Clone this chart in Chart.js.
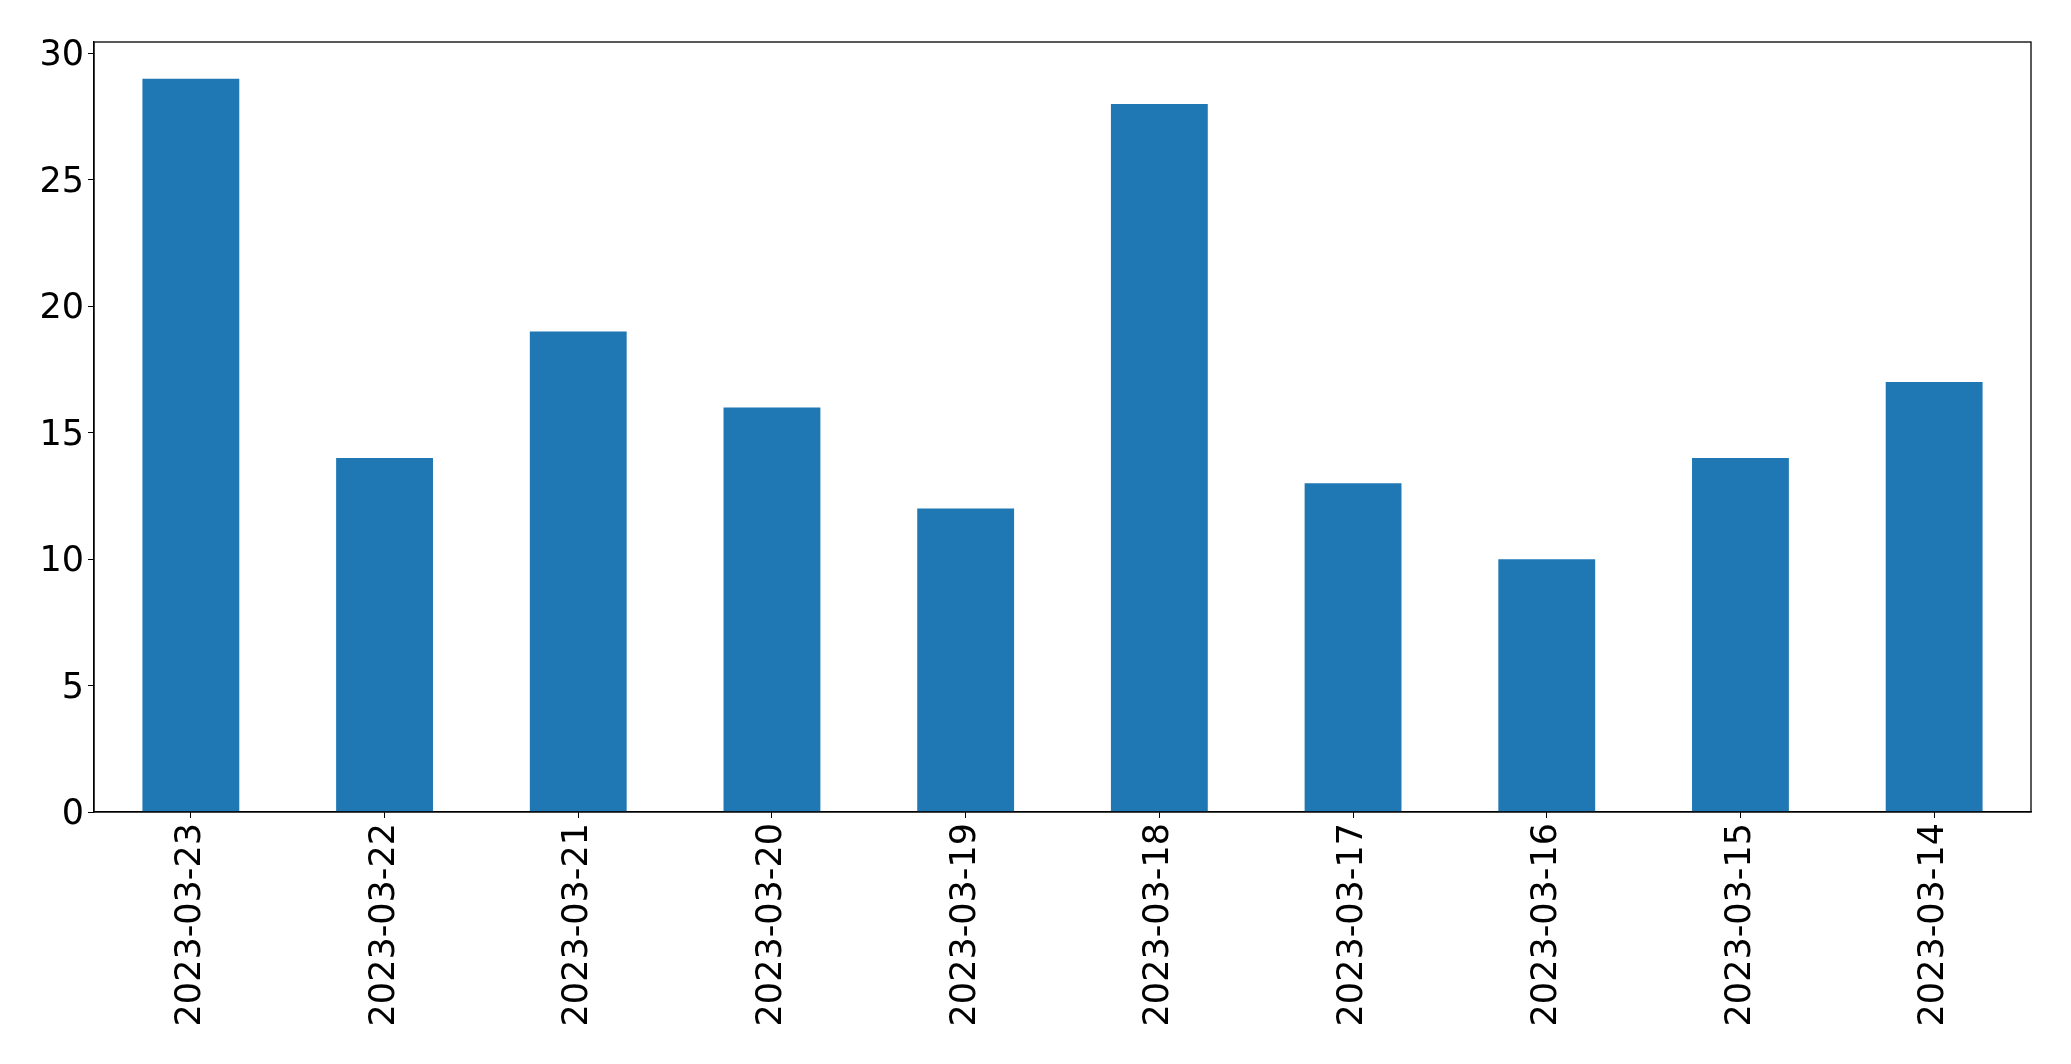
<!DOCTYPE html>
<html>
<head>
<meta charset="utf-8">
<script src="https://cdn.jsdelivr.net/npm/chart.js@4.4.1/dist/chart.umd.min.js"></script>
<style>
  body { margin: 0; background: #fff; }
  #wrap { width: 2071px; height: 1064px; }
</style>
</head>
<body>
<div id="wrap"><canvas id="myChart" width="2071" height="1064"></canvas></div>
<script>
const labels = ['2023-03-23', '2023-03-22', '2023-03-21', '2023-03-20', '2023-03-19',
    '2023-03-18', '2023-03-17', '2023-03-16', '2023-03-15', '2023-03-14'];
const values = [29, 14, 19, 16, 12, 28, 13, 10, 14, 17];
const yTicks = [0, 5, 10, 15, 20, 25, 30];

// box around the plot area, like matplotlib's spines
const frame = {
    id: 'frame',
    afterDraw(chart) {
        const a = chart.chartArea;
        const c = chart.ctx;
        c.save();
        c.strokeStyle = '#000';
        c.lineWidth = 1.3;
        c.strokeRect(a.left, a.top, a.right - a.left, a.bottom - a.top);
        c.restore();
    }
};

const ctx = document.getElementById('myChart');

new Chart(ctx, {
    type: 'bar',
    data: {
        labels: labels,
        datasets: [{
            data: values,
            backgroundColor: '#1f77b4',
            borderWidth: 0,
            barPercentage: 0.5,
            categoryPercentage: 1.0
        }]
    },
    options: {
        responsive: false,
        devicePixelRatio: 1,
        animation: false,
        layout: {
            padding: { top: 42, right: 40, left: 0, bottom: 0 }
        },
        plugins: {
            legend: { display: false },
            tooltip: { enabled: false }
        },
        scales: {
            x: {
                grid: { offset: false, drawOnChartArea: false, drawTicks: true, tickLength: 6, color: '#000' },
                border: { display: true, color: '#000', width: 1.3 },
                ticks: {
                    color: '#000',
                    font: { family: 'DejaVu Sans', size: 35 },
                    minRotation: 90,
                    maxRotation: 90,
                    padding: 5
                },
                afterFit(scale) { scale.height = 252; }
            },
            y: {
                min: 0,
                max: 30.45,
                grid: { drawOnChartArea: false, drawTicks: true, tickLength: 6, color: '#000' },
                border: { display: true, color: '#000', width: 1.3 },
                ticks: {
                    color: '#000',
                    font: { family: 'DejaVu Sans', size: 35 },
                    stepSize: 5,
                    padding: 4,
                    labelOffset: 3
                },
                afterBuildTicks(scale) {
                    scale.ticks = yTicks.map(v => ({ value: v }));
                },
                afterFit(scale) { scale.width = 94; }
            }
        }
    },
    plugins: [frame]
});
</script>
</body>
</html>
